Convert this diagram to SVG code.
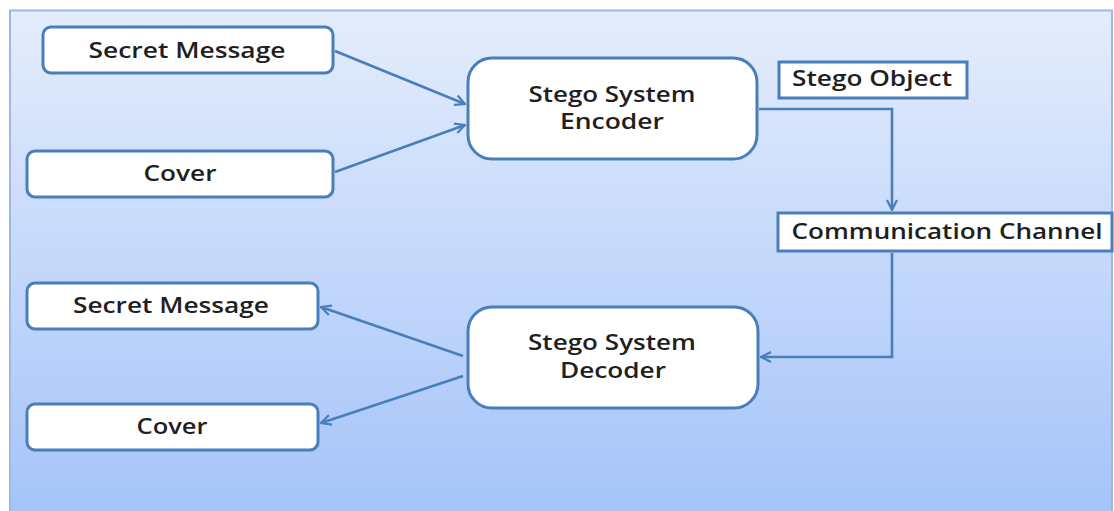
<svg xmlns="http://www.w3.org/2000/svg" width="1114" height="511" viewBox="0 0 1114 511">
  <defs>
    <linearGradient id="panelFill" x1="0" y1="0" x2="0" y2="1">
      <stop offset="0" stop-color="#e4edfc"/>
      <stop offset="1" stop-color="#a4c3f9"/>
    </linearGradient>
    <marker id="arrow" viewBox="0 0 12 12" refX="11" refY="6" markerWidth="12" markerHeight="12" markerUnits="userSpaceOnUse" orient="auto">
      <path d="M1,1 L11,6 L1,11" fill="none" stroke="#4a7ebb" stroke-width="2.2" stroke-linejoin="miter"/>
    </marker>
    <style>
      .box { fill: #ffffff; stroke: #4a7ebb; stroke-width: 3; }
      .label { font-family: "Open Sans", "Liberation Sans", sans-serif; font-weight: 600; font-size: 21px; fill: #1f1f1f; text-anchor: middle; }
      .link { fill: none; stroke: #4a7ebb; stroke-width: 2.6; marker-end: url(#arrow); }
    </style>
  </defs>

  <rect x="0" y="0" width="1114" height="511" fill="#ffffff"/>
  <rect x="10" y="10.5" width="1102" height="510" fill="url(#panelFill)" stroke="#9cb9e4" stroke-width="2"/>

  <g id="secret-message-in">
    <rect class="box" x="43" y="27" width="290" height="46" rx="8"/>
    <text class="label" x="187" y="58" textLength="197" lengthAdjust="spacingAndGlyphs">Secret Message</text>
  </g>

  <g id="cover-in">
    <rect class="box" x="27" y="151" width="306" height="46" rx="8"/>
    <text class="label" x="180" y="181" textLength="73" lengthAdjust="spacingAndGlyphs">Cover</text>
  </g>

  <g id="encoder">
    <rect class="box" x="468" y="58" width="289" height="101" rx="24"/>
    <text class="label" x="612" y="102" textLength="167" lengthAdjust="spacingAndGlyphs">Stego System</text>
    <text class="label" x="612" y="129" textLength="104" lengthAdjust="spacingAndGlyphs">Encoder</text>
  </g>

  <g id="stego-object">
    <rect class="box" x="779" y="62" width="188" height="36" rx="0" stroke-width="2.6"/>
    <text class="label" x="872" y="86" textLength="160" lengthAdjust="spacingAndGlyphs">Stego Object</text>
  </g>

  <g id="channel">
    <rect class="box" x="778" y="213" width="334" height="38" rx="0" stroke-width="2.6"/>
    <text class="label" x="947" y="239" textLength="311" lengthAdjust="spacingAndGlyphs">Communication Channel</text>
  </g>

  <g id="decoder">
    <rect class="box" x="468" y="307" width="290" height="101" rx="24"/>
    <text class="label" x="612" y="350" textLength="168" lengthAdjust="spacingAndGlyphs">Stego System</text>
    <text class="label" x="613" y="378" textLength="106" lengthAdjust="spacingAndGlyphs">Decoder</text>
  </g>

  <g id="secret-message-out">
    <rect class="box" x="27" y="283" width="291" height="46" rx="8"/>
    <text class="label" x="171" y="313" textLength="196" lengthAdjust="spacingAndGlyphs">Secret Message</text>
  </g>

  <g id="cover-out">
    <rect class="box" x="27" y="404" width="291" height="46" rx="8"/>
    <text class="label" x="172" y="434" textLength="71" lengthAdjust="spacingAndGlyphs">Cover</text>
  </g>

  <g id="connectors">
    <path class="link" d="M335,51 L465,104"/>
    <path class="link" d="M335,172 L465,125"/>
    <path class="link" d="M759,109 L892,109 L892,210"/>
    <path class="link" d="M892,253 L892,357 L761,357"/>
    <path class="link" d="M463,356 L321,307"/>
    <path class="link" d="M463,376 L321,423"/>
  </g>
</svg>
